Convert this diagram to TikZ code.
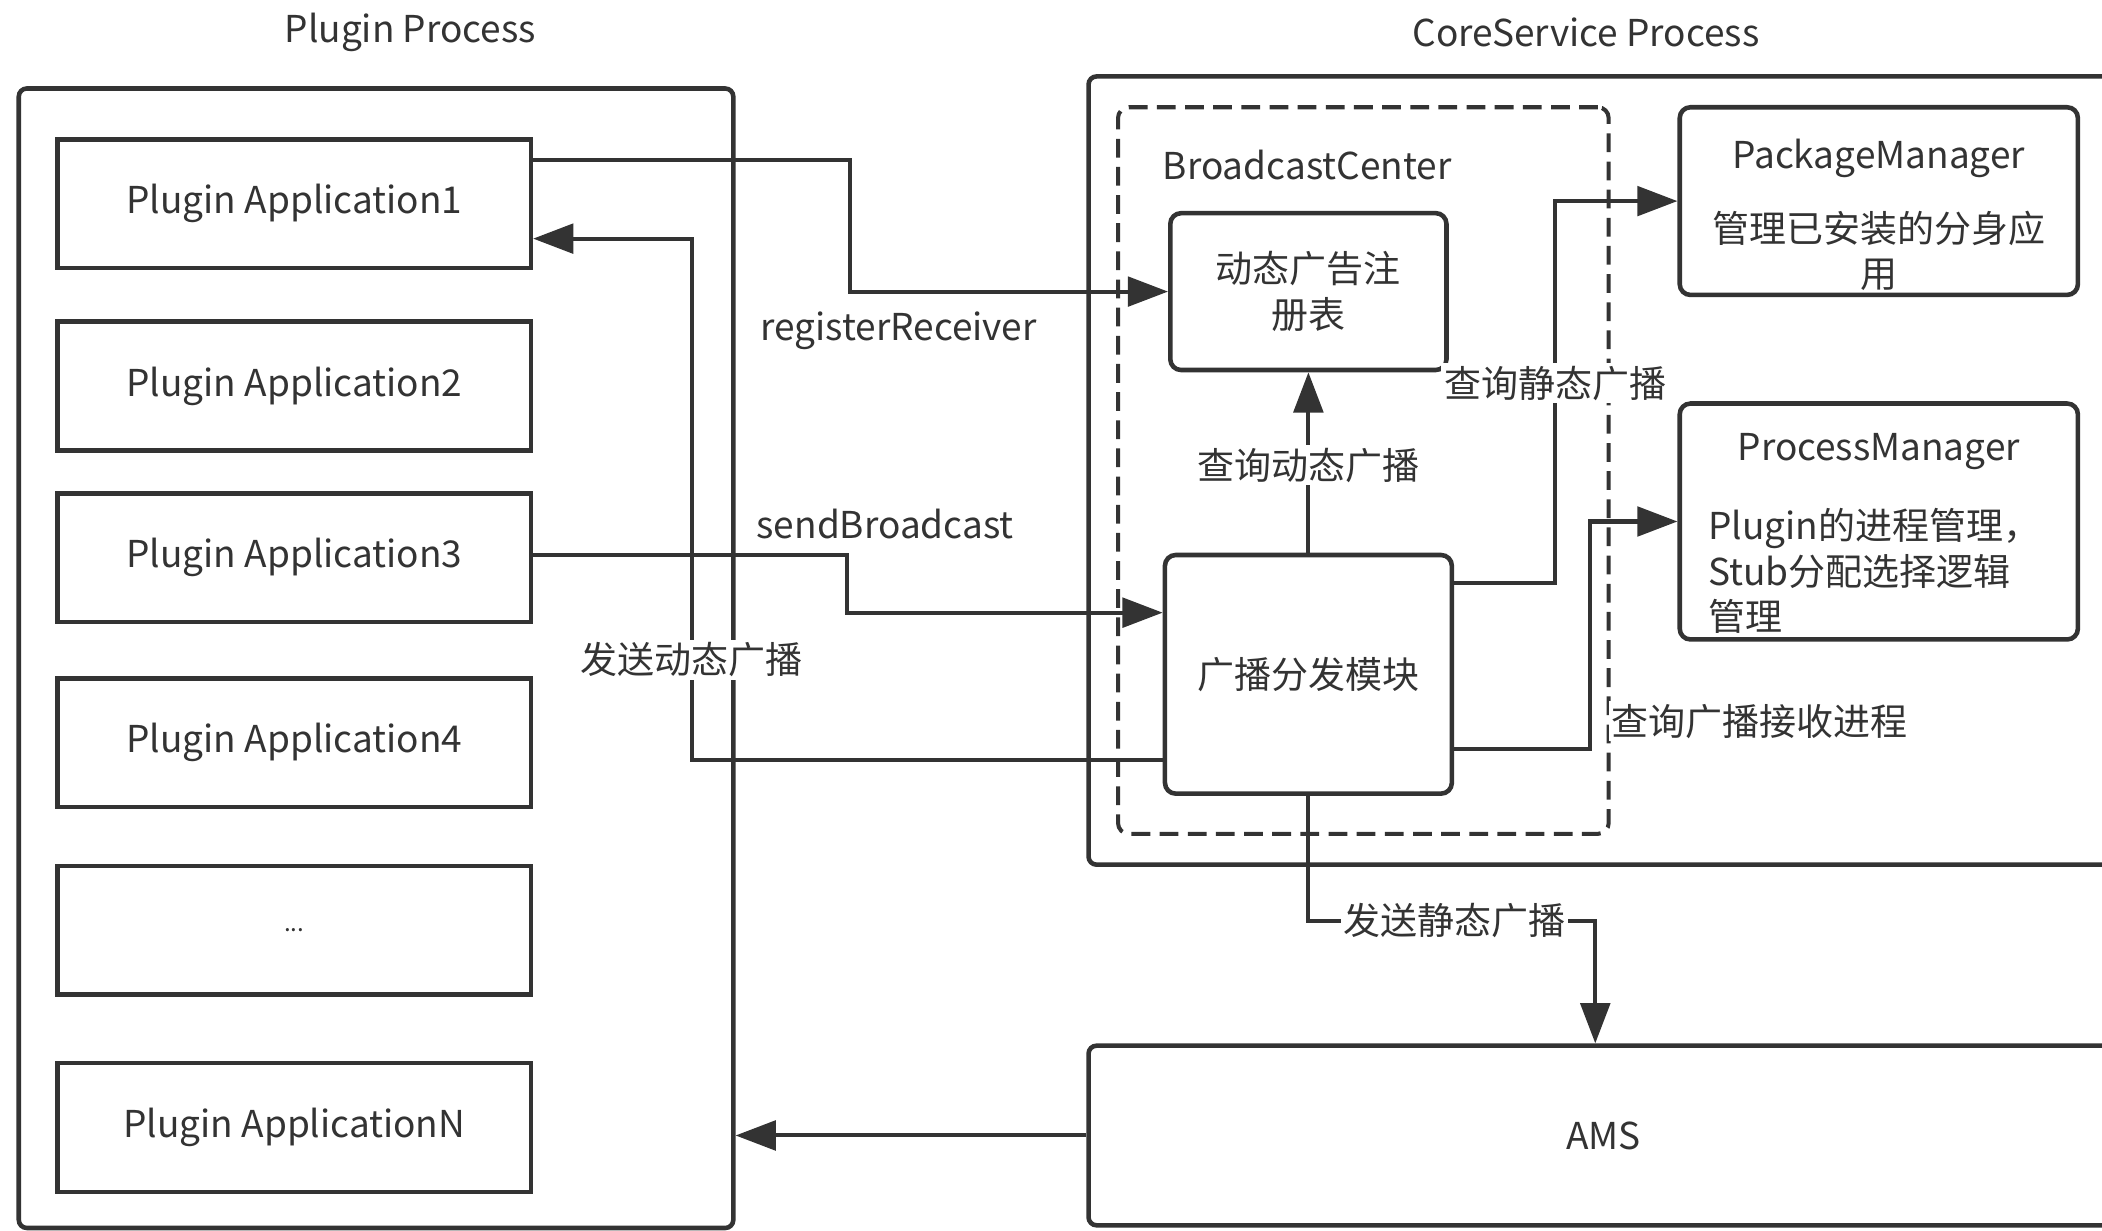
\documentclass[tikz,border=0pt]{standalone}
\usepackage{fontspec}
\setmainfont{Noto Sans CJK SC}
\usetikzlibrary{arrows.meta,calc}
\definecolor{ink}{HTML}{333333}
\newcommand\myfs{\fontsize{13.8}{17}\selectfont}
\begin{document}
\begin{tikzpicture}[x=0.5pt,y=-0.5pt,
  box/.style={draw=ink, line width=1.7pt, inner sep=0pt, align=center, text=ink, font=\myfs},
  rbox/.style={box, rounded corners=3pt},
  dbox/.style={draw=ink, line width=1.5pt, dash pattern=on 7pt off 3.5pt, rounded corners=4pt, inner sep=0pt},
  arr/.style={draw=ink, line width=1.5pt, -{Triangle[length=15pt,width=11pt]}},
  conn/.style={draw=ink, line width=1.5pt},
  lbl/.style={fill=white, inner sep=1pt, text=ink, font=\myfs},
  txt/.style={inner sep=0pt, text=ink, font=\myfs, align=center}]
\useasboundingbox (0,0) rectangle (1568,918);
\clip (0,0) rectangle (1568,918);

% titles
\node[txt] (t1) at (306,24) {Plugin Process};
\node[txt] (t2) at (1183,24) {CoreService Process};

% plugin process
\node[rbox, minimum width=266.5pt, minimum height=425pt] (P) at (280.5,491) {};
\node[box, minimum width=176.5pt, minimum height=48pt] (app1) at (219.5,152) {Plugin Application1};
\node[box, minimum width=176.5pt, minimum height=48pt] (app2) at (219.5,288) {Plugin Application2};
\node[box, minimum width=176.5pt, minimum height=48pt] (app3) at (219.5,416) {Plugin Application3};
\node[box, minimum width=176.5pt, minimum height=48pt] (app4) at (219.5,554) {Plugin Application4};
\node[box, minimum width=176.5pt, minimum height=48pt] (app5) at (219.5,694) {\fontsize{9}{10}\selectfont ...};
\node[box, minimum width=176.5pt, minimum height=48pt] (appN) at (219.5,841) {Plugin ApplicationN};

% core service
\node[rbox, minimum width=384pt, minimum height=294pt] (C) at (1196,351) {};
\node[dbox, minimum width=183pt, minimum height=271pt] (bc) at (1017,351) {};
\node[txt, anchor=west] (bcl) at (867,123) {BroadcastCenter};
\node[rbox, rounded corners=4pt, minimum width=103pt, minimum height=58.5pt] (reg) at (976,217.5) {动态广告注\\册表};
\node[rbox, rounded corners=4pt, minimum width=107pt, minimum height=89pt, fill=white] (disp) at (976,503) {广播分发模块};
\node[rbox, rounded corners=4pt, minimum width=148.5pt, minimum height=70pt] (pkg) at (1401.5,150) {};
\node[txt] (pkgt) at (1401.5,118) {PackageManager};
\node[txt] (pkgd) at (1401.5,187) {管理已安装的分身应\\用};
\node[rbox, rounded corners=4pt, minimum width=148.5pt, minimum height=88pt] (proc) at (1401.5,389) {};
\node[txt] (proct) at (1401.5,337) {ProcessManager};
\node[txt, anchor=west, align=left] (procd) at (1274,426) {Plugin的进程管理，\\Stub分配选择逻辑\\管理};
\node[rbox, minimum width=384pt, minimum height=67pt] (ams) at (1196,847) {AMS};

% connectors
\draw[arr] ([yshift=16.5pt]app1.east) -- (634,119) |- (reg.west);
\node[txt, anchor=west] (lrr) at (567,247) {registerReceiver};

\draw[arr] ([yshift=1pt]app3.east) -- (632,414) |- ([yshift=23pt]disp.west);
\node[txt, anchor=west] (lsb) at (564,391) {sendBroadcast};

\draw[arr] ([yshift=-32pt]disp.west) -- (516,567) |- ([yshift=-13pt]app1.east);
\node[lbl] (lsd) at (516,492) {发送动态广播};

\draw[arr] (disp.north) -- (reg.south);
\node[lbl] (lqd) at (976,347) {查询动态广播};

\draw[arr] ([yshift=34pt]disp.east) -- (1160,435) |- (pkg.west);
\node[lbl] (lqs) at (1160,286) {查询静态广播};

\draw[arr] ([yshift=-28pt]disp.east) -- (1186,559) |- (proc.west);
\node[lbl, anchor=west] (lqp) at (1200,538) {查询广播接收进程};

\draw[arr] (disp.south) -- (976,687) -| ([xshift=-3pt]ams.north);
\node[lbl] (lss) at (1085,687) {发送静态广播};

\draw[arr] (ams.west) -- (P.east |- ams.west);
\end{tikzpicture}
\end{document}
